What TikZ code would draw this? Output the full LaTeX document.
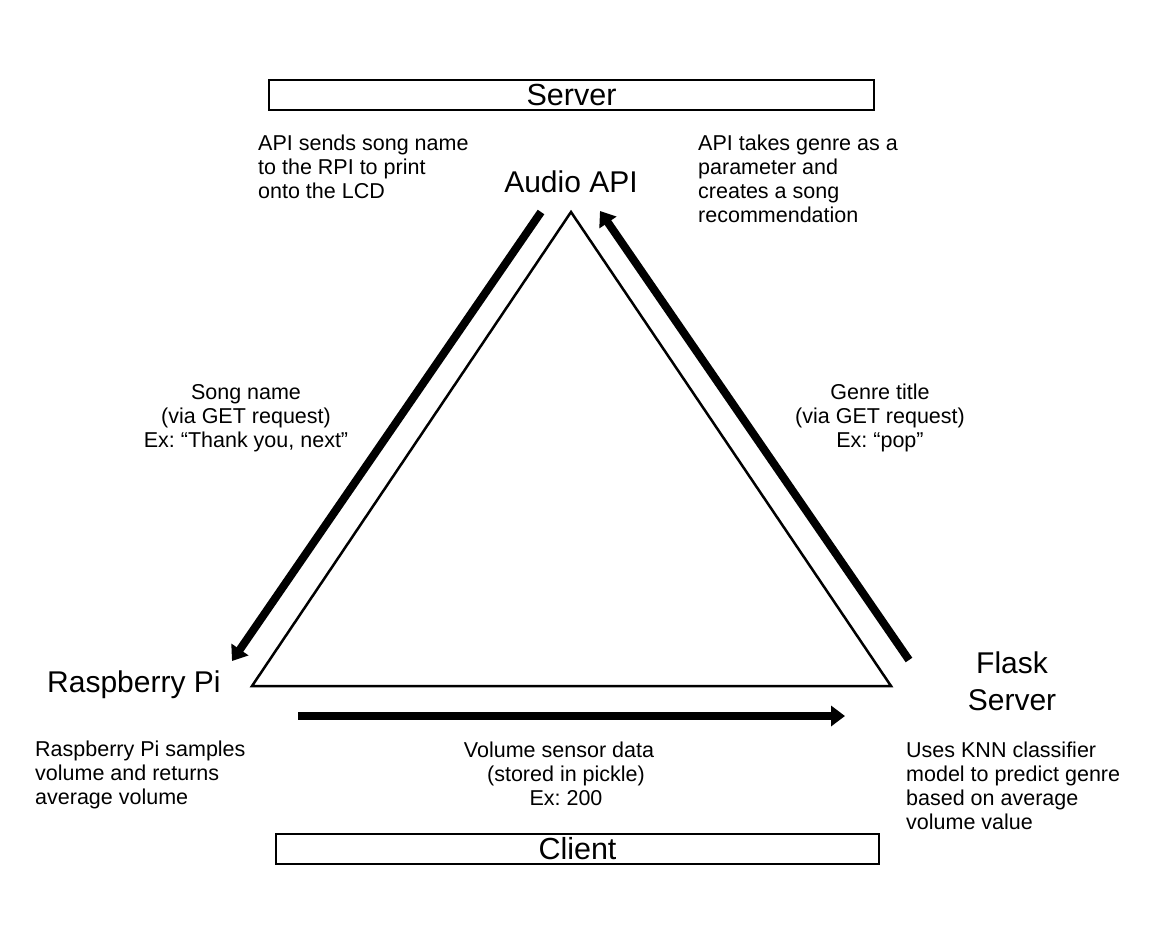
\documentclass[tikz,border=0pt]{standalone}
\usepackage{fontspec}
\setmainfont{Liberation Sans}
\frenchspacing
\usetikzlibrary{arrows.meta}
\tikzset{
  smalltxt/.style={inner sep=0pt, font=\fontsize{21.5}{24}\selectfont\frenchspacing},
  bigtxt/.style={inner sep=0pt, font=\fontsize{30}{36.5}\selectfont},
  framebox/.style={draw, line width=1.5pt, minimum height=30pt, inner sep=0pt, font=\fontsize{30.5}{34}\selectfont},
  flowarrow/.style={line width=8pt, -{Triangle[length=14pt,width=20pt]}},
  tri/.style={line width=2.5pt, line join=miter}
}
\begin{document}
\begin{tikzpicture}[x=1pt,y=-1pt]
\useasboundingbox (0,0) rectangle (1155,932);
% boxes
\node[framebox, minimum width=605pt] (server) at (571.5,95) {Server};
\node[framebox, minimum width=603pt] (client) at (577.5,849) {Client};
% labels
\node[bigtxt, anchor=base] (audio) at (571,192) {Audio API};
\node[bigtxt, anchor=base west] (rpi) at (47,692) {Raspberry Pi};
\node[bigtxt, anchor=north, align=center] (flask) at (1012,652) {Flask\\Server};
% descriptions
\node[smalltxt, anchor=north west, align=left] (d1) at (258,135) {API sends song name\\to the RPI to print\\onto the LCD};
\node[smalltxt, anchor=north west, align=left] (d2) at (698,135) {API takes genre as a\\parameter and\\creates a song\\recommendation};
\node[smalltxt, anchor=north, align=center] (song) at (246,384) {Song name\\(via GET request)\\Ex: “Thank you, next”};
\node[smalltxt, anchor=north, align=center] (genre) at (880,384) {Genre title\\(via GET request)\\Ex: “pop”};
\node[smalltxt, anchor=north west, align=left] (d3) at (35,741) {Raspberry Pi samples\\volume and returns\\average volume};
\node[smalltxt, anchor=north, align=center] (vol) at (559,742) {Volume sensor data\\\hspace*{14pt}(stored in pickle)\\\hspace*{14pt}Ex: 200};
\node[smalltxt, anchor=north west, align=left] (d4) at (906,742) {Uses KNN classifier\\model to predict genre\\based on average\\volume value};
% triangle
\coordinate (ta) at (571,212);
\coordinate (tl) at (252,686);
\coordinate (tr) at (891,686);
\draw[tri] (ta) -- (tl) -- (tr) -- cycle;
% arrows
\coordinate (a1s) at (541,212);
\coordinate (a1e) at (232,661);
\coordinate (a2s) at (909,660);
\coordinate (a2e) at (600,211);
\coordinate (a3s) at (298,716);
\coordinate (a3e) at (845,716);
\draw[flowarrow] (a1s) -- (a1e);
\draw[flowarrow] (a2s) -- (a2e);
\draw[flowarrow] (a3s) -- (a3e);
\end{tikzpicture}
\end{document}
